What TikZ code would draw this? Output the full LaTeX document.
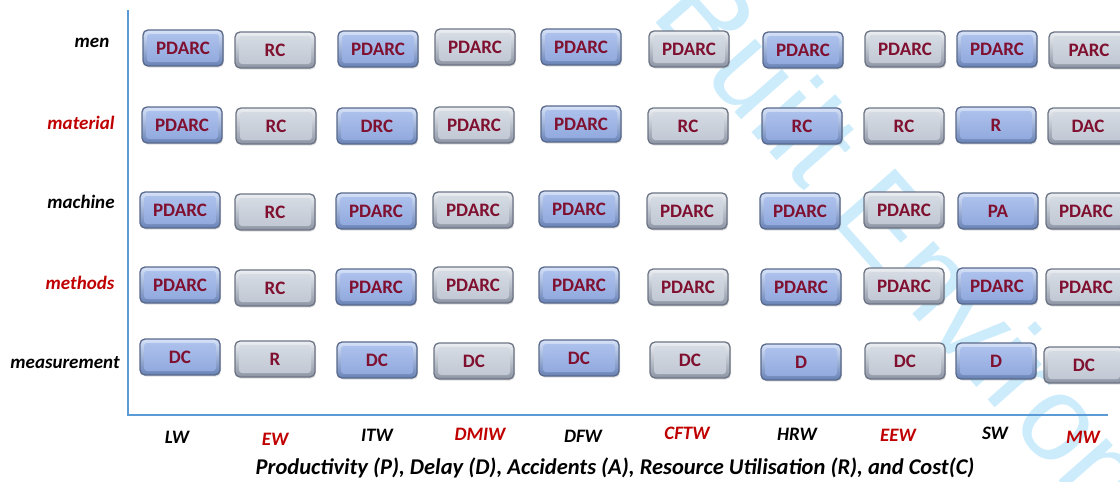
\documentclass[tikz,border=0pt]{standalone}
\usepackage{fontspec}
\setmainfont{Carlito}
\newfontfamily\markfont{Liberation Sans}
\usetikzlibrary{shadows}

\definecolor{axisblue}{RGB}{91,155,213}
\definecolor{labelred}{RGB}{192,0,0}
\definecolor{codered}{RGB}{128,16,48}
\definecolor{wmblue}{RGB}{204,236,252}
% blue cell
\definecolor{blueedge}{RGB}{88,104,138}
\definecolor{bluerimtop}{RGB}{214,226,248}
\definecolor{bluerimbot}{RGB}{104,130,182}
\definecolor{bluefacetop}{RGB}{176,196,238}
\definecolor{bluefacebot}{RGB}{142,166,220}
% grey cell
\definecolor{greyedge}{RGB}{108,116,132}
\definecolor{greyrimtop}{RGB}{236,239,243}
\definecolor{greyrimbot}{RGB}{140,148,164}
\definecolor{greyfacetop}{RGB}{216,221,229}
\definecolor{greyfacebot}{RGB}{190,198,210}

\tikzset{
  cell/.style={rounded corners=5pt, minimum width=80pt, minimum height=36pt,
    inner sep=0pt, line width=1.3pt, text=codered,
    font=\fontsize{19}{19}\selectfont\bfseries,
    drop shadow={shadow xshift=1pt, shadow yshift=-1.5pt, opacity=0.25}},
  bluecell/.style={cell, draw=blueedge, top color=bluerimtop, bottom color=bluerimbot,
    path picture={\shade[top color=bluefacetop, bottom color=bluefacebot, rounded corners=3pt]
      ([shift={(4pt,-4pt)}]path picture bounding box.north west) rectangle
      ([shift={(-4pt,4pt)}]path picture bounding box.south east);}},
  greycell/.style={cell, draw=greyedge, top color=greyrimtop, bottom color=greyrimbot,
    path picture={\shade[top color=greyfacetop, bottom color=greyfacebot, rounded corners=3pt]
      ([shift={(4pt,-4pt)}]path picture bounding box.north west) rectangle
      ([shift={(-4pt,4pt)}]path picture bounding box.south east);}},
  rowlabel/.style={font=\fontsize{19}{19}\selectfont\bfseries\itshape, inner sep=0pt},
  collabel/.style={font=\fontsize{19}{19}\selectfont\bfseries\itshape, inner sep=0pt},
  captionlabel/.style={font=\fontsize{22.5}{22.5}\selectfont\bfseries\itshape, inner sep=0pt},
  axis/.style={draw=axisblue, line width=2.3pt},
}

\begin{document}
\begin{tikzpicture}[x=1pt, y=-1pt]
\useasboundingbox (0,0) rectangle (1120,482);
\clip (0,0) rectangle (1120,482);

% faint diagonal imprint behind the chart
\node[font=\markfont\fontsize{121}{121}\selectfont, text=wmblue, anchor=base west,
      rotate=-48.6, inner sep=0pt] (imprint) at (649,15) {Built Environment};

% axes
\coordinate (ytop) at (128,10);
\coordinate (origin) at (128,415);
\coordinate (xend) at (1108,415);
\draw[axis] (ytop) -- (origin) -- (xend);

% row labels
\node[rowlabel] (men)  at (92,43)  {men};
\node[rowlabel, text=labelred] (material) at (81,123) {material};
\node[rowlabel] (machine) at (81,202) {machine};
\node[rowlabel, text=labelred] (methods) at (80,283) {methods};
\node[rowlabel] (measurement) at (65,363) {measurement};

% column labels
\node[collabel] (LW) at (177,437) {LW};
\node[collabel, text=labelred] (EW) at (275,439) {EW};
\node[collabel] (ITW) at (377,435) {ITW};
\node[collabel, text=labelred] (DMIW) at (480,434) {DMIW};
\node[collabel] (DFW) at (583,436) {DFW};
\node[collabel, text=labelred] (CFTW) at (687,433) {CFTW};
\node[collabel] (HRW) at (797,434) {HRW};
\node[collabel, text=labelred] (EEW) at (898,435) {EEW};
\node[collabel] (SW) at (995,433) {SW};
\node[collabel, text=labelred] (MW) at (1083,437) {MW};

% caption
\node[captionlabel] (caption) at (615,468)
  {Productivity (P), Delay (D), Accidents (A), Resource Utilisation (R), and Cost(C)};

% row 1: men
\node[bluecell] (a1) at (183,48) {PDARC};
\node[greycell] (a2) at (275,50) {RC};
\node[bluecell] (a3) at (378,49) {PDARC};
\node[greycell] (a4) at (475,47) {PDARC};
\node[bluecell] (a5) at (581,47) {PDARC};
\node[greycell] (a6) at (689,49) {PDARC};
\node[bluecell] (a7) at (803,50) {PDARC};
\node[greycell] (a8) at (905,49) {PDARC};
\node[bluecell] (a9) at (997,49) {PDARC};
\node[greycell] (a10) at (1089,50) {PARC};

% row 2: material
\node[bluecell] (b1) at (182,125) {PDARC};
\node[greycell] (b2) at (276,126) {RC};
\node[bluecell] (b3) at (377,126) {DRC};
\node[greycell] (b4) at (474,125) {PDARC};
\node[bluecell] (b5) at (581,124) {PDARC};
\node[greycell] (b6) at (688,126) {RC};
\node[bluecell] (b7) at (802,126) {RC};
\node[greycell] (b8) at (904,126) {RC};
\node[bluecell] (b9) at (996,125) {R};
\node[greycell] (b10) at (1088,126) {DAC};

% row 3: machine
\node[bluecell] (c1) at (180,210) {PDARC};
\node[greycell] (c2) at (275,212) {RC};
\node[bluecell] (c3) at (376,211) {PDARC};
\node[greycell] (c4) at (473,210) {PDARC};
\node[bluecell] (c5) at (579,209) {PDARC};
\node[greycell] (c6) at (687,211) {PDARC};
\node[bluecell] (c7) at (800,211) {PDARC};
\node[greycell] (c8) at (904,210) {PDARC};
\node[bluecell] (c9) at (998,211) {PA};
\node[greycell] (c10) at (1086,211) {PDARC};

% row 4: methods
\node[bluecell] (d1) at (180,285) {PDARC};
\node[greycell] (d2) at (275,288) {RC};
\node[bluecell] (d3) at (376,287) {PDARC};
\node[greycell] (d4) at (473,285) {PDARC};
\node[bluecell] (d5) at (579,285) {PDARC};
\node[greycell] (d6) at (688,287) {PDARC};
\node[bluecell] (d7) at (801,287) {PDARC};
\node[greycell] (d8) at (904,286) {PDARC};
\node[bluecell] (d9) at (997,286) {PDARC};
\node[greycell] (d10) at (1086,287) {PDARC};

% row 5: measurement
\node[bluecell] (e1) at (180,357) {DC};
\node[greycell] (e2) at (275,359) {R};
\node[bluecell] (e3) at (377,360) {DC};
\node[greycell] (e4) at (474,361) {DC};
\node[bluecell] (e5) at (579,358) {DC};
\node[greycell] (e6) at (690,360) {DC};
\node[bluecell] (e7) at (801,362) {D};
\node[greycell] (e8) at (905,361) {DC};
\node[bluecell] (e9) at (996,361) {D};
\node[greycell] (e10) at (1084,365) {DC};
\end{tikzpicture}
\end{document}
